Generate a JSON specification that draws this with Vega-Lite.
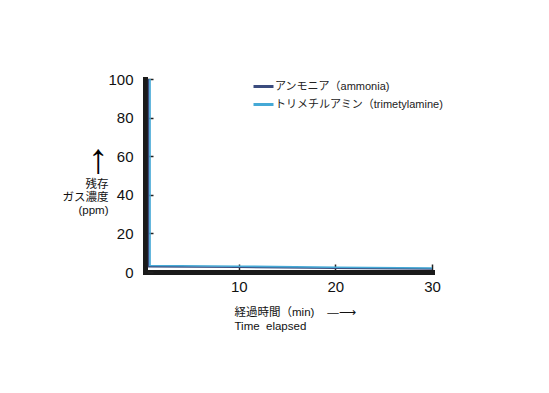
{
  "$schema": "https://vega.github.io/schema/vega-lite/v6.json",
  "width": 287,
  "height": 193,
  "autosize": "none",
  "padding": {"left": 145, "top": 79, "right": 117, "bottom": 121},
  "background": "white",
  "title": {
    "text": "↑",
    "fontSize": 42,
    "fontWeight": "normal",
    "font": "Liberation Sans",
    "color": "#000",
    "anchor": "start",
    "align": "center",
    "baseline": "top",
    "frame": "group",
    "dx": -47,
    "dy": 110,
    "offset": 0
  },
  "data": {
    "values": [
      {"gas": "アンモニア（ammonia)", "i": 0, "t": 0.68, "ppm": 100},
      {"gas": "アンモニア（ammonia)", "i": 1, "t": 0.68, "ppm": 2.8},
      {"gas": "アンモニア（ammonia)", "i": 2, "t": 10, "ppm": 2.5},
      {"gas": "アンモニア（ammonia)", "i": 3, "t": 20, "ppm": 2.0},
      {"gas": "アンモニア（ammonia)", "i": 4, "t": 30, "ppm": 1.6},
      {"gas": "トリメチルアミン（trimetylamine)", "i": 0, "t": 0.82, "ppm": 100},
      {"gas": "トリメチルアミン（trimetylamine)", "i": 1, "t": 0.82, "ppm": 3.4},
      {"gas": "トリメチルアミン（trimetylamine)", "i": 2, "t": 10, "ppm": 3.0},
      {"gas": "トリメチルアミン（trimetylamine)", "i": 3, "t": 20, "ppm": 2.5},
      {"gas": "トリメチルアミン（trimetylamine)", "i": 4, "t": 30, "ppm": 2.1}
    ]
  },
  "mark": {"type": "line", "strokeWidth": 1.6, "strokeJoin": "miter"},
  "encoding": {
    "x": {
      "field": "t",
      "type": "quantitative",
      "scale": {"domain": [0.3, 30], "nice": false, "zero": false},
      "axis": {
        "values": [10, 20, 30],
        "grid": false,
        "domainColor": "#1a1a1a",
        "domainWidth": 5,
        "domainCap": "square",
        "tickColor": "#222",
        "tickWidth": 1.5,
        "tickSize": -8,
        "labelFont": "Liberation Sans",
        "labelFontSize": 15,
        "labelColor": "#111",
        "labelPadding": 15,
        "labelFlush": false,
        "title": ["経過時間（min)\u00a0\u00a0\u00a0\u00a0—⟶", "Time\u00a0\u00a0elapsed"],
        "titleFont": "Liberation Sans, Noto Sans CJK JP",
        "titleFontSize": 11.5,
        "titleFontWeight": "normal",
        "titleColor": "#111",
        "titleAlign": "left",
        "titleAnchor": "start",
        "titleBaseline": "top",
        "titleLineHeight": 14,
        "titleX": 89,
        "titleY": 34
      }
    },
    "y": {
      "field": "ppm",
      "type": "quantitative",
      "scale": {"domain": [0, 100], "nice": false},
      "axis": {
        "values": [0, 20, 40, 60, 80, 100],
        "grid": false,
        "domainColor": "#1a1a1a",
        "domainWidth": 5,
        "domainCap": "square",
        "tickColor": "#222",
        "tickWidth": 1.5,
        "tickSize": -8,
        "labelFont": "Liberation Sans",
        "labelFontSize": 15,
        "labelColor": "#111",
        "labelPadding": 20,
        "labelFlush": false,
        "title": ["残存", "ガス濃度", "(ppm)"],
        "titleFont": "Liberation Sans, Noto Sans CJK JP",
        "titleFontSize": 11.5,
        "titleFontWeight": "normal",
        "titleColor": "#111",
        "titleAngle": 0,
        "titleAlign": "right",
        "titleBaseline": "top",
        "titleLineHeight": 13,
        "titleX": -37,
        "titleY": 99
      }
    },
    "color": {
      "field": "gas",
      "type": "nominal",
      "sort": ["アンモニア（ammonia)", "トリメチルアミン（trimetylamine)"],
      "scale": {"range": ["#3b4c7e", "#45a9d6"]},
      "legend": {
        "title": null,
        "orient": "none",
        "legendX": 107,
        "legendY": -4,
        "padding": 0,
        "symbolType": "stroke",
        "symbolSize": 400,
        "symbolStrokeWidth": 3,
        "labelFont": "Liberation Sans, Noto Sans CJK JP",
        "labelFontSize": 11,
        "labelColor": "#222",
        "labelOffset": 0,
        "labelLimit": 300,
        "rowPadding": -6
      }
    },
    "order": {"field": "i", "type": "quantitative"}
  },
  "config": {"view": {"stroke": null}}
}
